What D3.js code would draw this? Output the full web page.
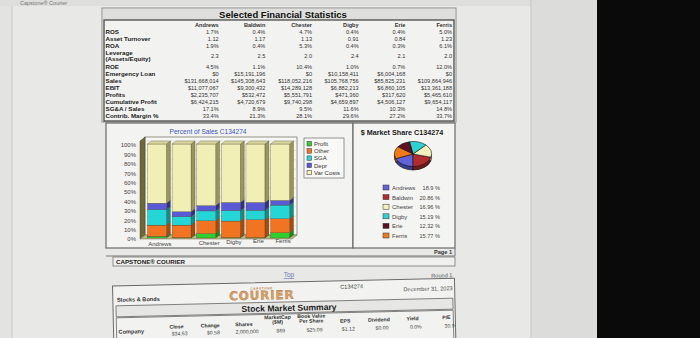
<!DOCTYPE html>
<html><head><meta charset="utf-8">
<script src="https://cdn.jsdelivr.net/npm/d3@7"></script>
<style>
html,body{margin:0;padding:0;background:#e8e8e6;overflow:hidden}
svg{display:block;font-family:"Liberation Sans",Arial,sans-serif}
</style>
</head><body>
<svg id="c" width="700" height="338"></svg>
<script>
// ---------------- DATA ----------------
const companies = ["Andrews","Baldwin","Chester","Digby","Erie","Ferris"];

const ros              = ["1.7%","0.4%","4.7%","0.4%","0.4%","5.0%"];
const assetTurnover    = ["1.12","1.17","1.13","0.91","0.84","1.23"];
const roa              = ["1.9%","0.4%","5.3%","0.4%","0.3%","6.1%"];
const leverage         = ["2.3","2.5","2.0","2.4","2.1","2.0"];
const roe              = ["4.5%","1.1%","10.4%","1.0%","0.7%","12.0%"];
const emergencyLoan    = ["$0","$15,191,196","$0","$10,158,411","$6,004,168","$0"];
const sales            = ["$131,668,014","$145,308,643","$118,052,216","$105,768,756","$85,825,231","$109,864,946"];
const ebit             = ["$11,077,067","$9,300,432","$14,289,128","$6,882,213","$6,860,105","$13,361,188"];
const profits          = ["$2,235,707","$532,472","$5,551,791","$471,360","$317,620","$5,465,610"];
const cumulativeProfit = ["$6,424,215","$4,720,679","$9,740,298","$4,659,897","$4,506,127","$9,654,117"];
const sgaSales         = ["17.1%","8.9%","9.5%","11.6%","10.3%","14.8%"];
const contribMargin    = ["33.4%","21.3%","28.1%","29.6%","27.2%","33.7%"];

// Percent of Sales (stacked bars), bottom to top
const profitPct  = [1.7, 0.4, 4.7, 0.4, 0.4, 5.5];
const otherPct   = [12.0, 13.3, 13.6, 17.6, 19.0, 15.0];
const sgaPct     = [16.5, 9.0, 10.5, 11.1, 10.1, 14.5];
const deprPct    = [6.8, 5.3, 5.7, 8.7, 8.3, 5.0];
const varCostPct = [63.0, 72.0, 65.5, 62.2, 62.2, 60.0];
const percentTicks = [0,10,20,30,40,50,60,70,80,90,100];
const segmentNames = ["Profit","Other","SGA","Depr","Var Costs"];

// $ Market Share
const marketShare = [18.9, 20.86, 16.96, 15.19, 12.32, 15.77];
const marketShareLabels = ["18.9 %","20.86 %","16.96 %","15.19 %","12.32 %","15.77 %"];

// Stock market summary (first row)
const stockHeaders = ["Close","Change","Shares","MarketCap|($M)","Book Value|Per Share","EPS","Dividend","Yield","P/E"];
const stockRow1    = ["$34.63","$0.58","2,000,000","$69","$25.09","$1.12","$0.00","0.0%","30.9"];

// ---------------- DRAW ----------------
const svg = d3.select("#c");
const F = "Liberation Sans, Arial, sans-serif";

// photo background
svg.append("rect").attr("width",700).attr("height",338).attr("fill","#e8e8e6");
svg.append("rect").attr("x",0).attr("y",0).attr("width",12).attr("height",338).attr("fill","#e3e3e1");
svg.append("line").attr("x1",12).attr("x2",12).attr("y1",6).attr("y2",338).attr("stroke","#c9c9c7");
svg.append("rect").attr("x",0).attr("y",0).attr("width",531).attr("height",6).attr("fill","#dededc");
svg.append("text").attr("x",20).attr("y",5).attr("font-size",5.5).attr("fill","#777").text("Capstone\u00AE  Courier");
svg.append("rect").attr("x",531).attr("y",0).attr("width",67).attr("height",338).attr("fill","#dcdcda");
svg.append("line").attr("x1",531).attr("x2",531).attr("y1",0).attr("y2",338).attr("stroke","#c3c3c1");
svg.append("rect").attr("x",597).attr("y",0).attr("width",103).attr("height",338).attr("fill","#0a0a0b");

// ---------- Selected Financial Statistics table ----------
const T = svg.append("g");
T.append("rect").attr("x",102).attr("y",8).attr("width",354).attr("height",114)
  .attr("fill","#f2f2f0").attr("stroke","#8c8c8c");
T.append("rect").attr("x",103).attr("y",9).attr("width",352).attr("height",11).attr("fill","#dededc");
T.append("text").attr("x",283).attr("y",18).attr("text-anchor","middle")
  .attr("font-size",9.5).attr("font-weight","bold").attr("fill","#111").text("Selected Financial Statistics");
T.append("rect").attr("x",104).attr("y",20).attr("width",350).attr("height",101)
  .attr("fill","none").attr("stroke","#4a4a4a").attr("stroke-width",1.3);

const colX = d3.scaleBand().domain(companies).range([172,452]);
T.selectAll("text.hdr").data(companies).join("text").attr("class","hdr")
  .attr("x",d=>colX(d)+colX.bandwidth()).attr("y",27).attr("text-anchor","end")
  .attr("font-size",5.6).attr("font-weight","bold").attr("fill","#333").text(d=>d);

const statRows = [
  {label:["ROS"], vals:ros, y:34},
  {label:["Asset Turnover"], vals:assetTurnover, y:41},
  {label:["ROA"], vals:roa, y:48},
  {label:["Leverage","(Assets/Equity)"], vals:leverage, y:58},
  {label:["ROE"], vals:roe, y:69},
  {label:["Emergency Loan"], vals:emergencyLoan, y:76},
  {label:["Sales"], vals:sales, y:82.5},
  {label:["EBIT"], vals:ebit, y:89.5},
  {label:["Profits"], vals:profits, y:96.5},
  {label:["Cumulative Profit"], vals:cumulativeProfit, y:103.5},
  {label:["SG&A / Sales"], vals:sgaSales, y:110.5},
  {label:["Contrib. Margin %"], vals:contribMargin, y:117.5}
];
statRows.forEach(r=>{
  r.label.forEach((l,k)=>{
    const yy = r.label.length===2 ? (k===0?55:61) : r.y;
    T.append("text").attr("x",105.5).attr("y",yy).attr("font-size",6.2).attr("font-weight","bold")
      .attr("fill","#222").text(l);
  });
  T.selectAll(null).data(r.vals).join("text")
    .attr("x",(d,i)=>colX(companies[i])+colX.bandwidth()).attr("y",r.y)
    .attr("text-anchor","end").attr("font-size",5.6).attr("fill","#333").text(d=>d);
});

// ---------- Percent of Sales panel ----------
const P = svg.append("g");
P.append("rect").attr("x",106).attr("y",123).attr("width",247).attr("height",125)
  .attr("fill","#f3f3f1").attr("stroke","#6a6a6a").attr("stroke-width",1.2);
P.append("text").attr("x",208).attr("y",134).attr("text-anchor","middle").attr("font-size",6.6)
  .attr("fill","#3a55c0").text("Percent of Sales  C134274");

const y = d3.scaleLinear().domain([0,100]).range([238,144]);
const x = d3.scaleBand().domain(companies).range([145,292]).paddingInner(0.23).paddingOuter(0.1);
const dx = 4, dy = -3;

// 3D walls
P.append("rect").attr("x",145).attr("y",137).attr("width",152).attr("height",98)
  .attr("fill","#f7f7f4").attr("stroke","#7c7c70").attr("stroke-width",0.8);
P.selectAll("line.grid").data(percentTicks).join("line").attr("class","grid")
  .attr("x1",145).attr("x2",297).attr("y1",d=>y(d)+dy).attr("y2",d=>y(d)+dy)
  .attr("stroke","#d2d2cc").attr("stroke-width",0.6);
P.append("polygon").attr("points","140,141 145,137 145,235 140,239").attr("fill","#6e6938").attr("stroke","#4a4624").attr("stroke-width",0.5);
P.append("polygon").attr("points","140,239 145,235 297,235 292,239").attr("fill","#b9b78e").attr("stroke","#6e6938").attr("stroke-width",0.5);

// y axis
const yAxis = d3.axisLeft(y).tickValues(percentTicks).tickSize(0).tickPadding(0).tickFormat(d=>d+"%");
const ya = P.append("g").attr("transform","translate(136,1)").call(yAxis);
ya.select(".domain").remove();
ya.selectAll("text").attr("font-size",6).attr("font-family",F).attr("fill","#444");

// stacked bars
const keys = ["profit","other","sga","depr","varCost"];
const rows = companies.map((c,i)=>({company:c, profit:profitPct[i], other:otherPct[i], sga:sgaPct[i], depr:deprPct[i], varCost:varCostPct[i]}));
const stacked = d3.stack().keys(keys)(rows);
const front = {profit:"#2fcf2f", other:"#f27322", sga:"#25d6d6", depr:"#5a5ad6", varCost:"#f2efb6"};
const side  = {profit:"#178a17", other:"#a64a0e", sga:"#128c8c", depr:"#30308a", varCost:"#9a955a"};
stacked.forEach(layer=>{
  const k = layer.key;
  const g = P.append("g");
  g.selectAll("polygon").data(layer).join("polygon")
    .attr("points",d=>{
      const x0 = x(d.data.company)+x.bandwidth(), y1 = y(d[1]), y0 = y(d[0]);
      return [[x0,y1],[x0+dx,y1+dy],[x0+dx,y0+dy],[x0,y0]].join(" ");
    }).attr("fill",side[k]).attr("stroke","#3d3a20").attr("stroke-width",0.3);
  g.selectAll("rect").data(layer).join("rect")
    .attr("x",d=>x(d.data.company)).attr("y",d=>y(d[1]))
    .attr("width",x.bandwidth()).attr("height",d=>y(d[0])-y(d[1]))
    .attr("fill",front[k]).attr("stroke","#3d3a20").attr("stroke-width",0.3);
  if (k==="varCost") {
    g.selectAll("polygon.top").data(layer).join("polygon").attr("class","top")
      .attr("points",d=>{
        const x0 = x(d.data.company), x1 = x0+x.bandwidth(), yt = y(d[1]);
        return [[x0,yt],[x0+dx,yt+dy],[x1+dx,yt+dy],[x1,yt]].join(" ");
      }).attr("fill","#d9d6a0").attr("stroke","#3d3a20").attr("stroke-width",0.3);
  }
});

// x labels (Baldwin label hidden as in the original)
P.selectAll("text.xl").data(companies.filter(c=>c!=="Baldwin")).join("text").attr("class","xl")
  .attr("x",d=>x(d)+x.bandwidth()/2+3).attr("y",(d)=>246 - companies.indexOf(d)*0.7)
  .attr("text-anchor","middle").attr("font-size",6).attr("fill","#444").text(d=>d);

// legend
const L = P.append("g");
L.append("rect").attr("x",304).attr("y",138).attr("width",40).attr("height",40)
  .attr("fill","#f8f8f6").attr("stroke","#7a7a7a").attr("stroke-width",0.8);
const legendColors = [front.profit, front.other, front.sga, front.depr, front.varCost];
L.selectAll("rect.sw").data(segmentNames).join("rect").attr("class","sw")
  .attr("x",307).attr("y",(d,i)=>141.5+i*7.2).attr("width",4.5).attr("height",4.5)
  .attr("fill",(d,i)=>legendColors[i]).attr("stroke","#333").attr("stroke-width",0.5);
L.selectAll("text").data(segmentNames).join("text")
  .attr("x",314).attr("y",(d,i)=>146+i*7.2).attr("font-size",6).attr("fill","#333").text(d=>d);

// ---------- Market share panel ----------
const M = svg.append("g");
M.append("rect").attr("x",353).attr("y",123).attr("width",102).attr("height",125)
  .attr("fill","#f4f4f2").attr("stroke","#6a6a6a").attr("stroke-width",1.2);
M.append("text").attr("x",402).attr("y",135).attr("text-anchor","middle").attr("font-size",7.2)
  .attr("font-weight","bold").attr("fill","#1a1a1a").text("$ Market Share  C134274");

const pieColors = ["#6262da","#b02c30","#f5f1bc","#2fd2d2","#5e1020","#f07a1a"];
const pieDark   = ["#3a3a90","#701a1c","#a8a47a","#1c8a8a","#380810","#a04e0c"];
const pie = d3.pie().sort(null).startAngle(248*Math.PI/180).endAngle(-112*Math.PI/180);
const arcs = pie(marketShare);
const arc = d3.arc().innerRadius(0).outerRadius(18.5);
const cx = 413, cy = 154, sy = 12.5/18.5;
const pb = M.append("g").attr("transform",`translate(${cx},${cy+3.5}) scale(1,${sy})`);
pb.selectAll("path").data(arcs).join("path").attr("d",arc).attr("fill",(d,i)=>pieDark[i])
  .attr("stroke","#111").attr("stroke-width",0.8);
const pt = M.append("g").attr("transform",`translate(${cx},${cy}) scale(1,${sy})`);
pt.selectAll("path").data(arcs).join("path").attr("d",arc).attr("fill",(d,i)=>pieColors[i])
  .attr("stroke","#111").attr("stroke-width",0.7);

const ml = M.append("g");
ml.selectAll("rect").data(companies).join("rect")
  .attr("x",383).attr("y",(d,i)=>185+i*9.6).attr("width",6).attr("height",5)
  .attr("fill",(d,i)=>pieColors[i]).attr("stroke","#333").attr("stroke-width",0.5);
ml.selectAll("text.n").data(companies).join("text").attr("class","n")
  .attr("x",392).attr("y",(d,i)=>190+i*9.6).attr("font-size",6).attr("fill","#444").text(d=>d);
ml.selectAll("text.v").data(marketShareLabels).join("text").attr("class","v")
  .attr("x",440).attr("y",(d,i)=>190+i*9.6).attr("text-anchor","end").attr("font-size",5.6)
  .attr("fill","#444").text(d=>d);

// page footer
svg.append("line").attr("x1",106).attr("x2",455).attr("y1",256).attr("y2",256).attr("stroke","#777");
svg.append("line").attr("x1",455).attr("x2",455).attr("y1",248).attr("y2",256).attr("stroke","#777");
svg.append("text").attr("x",452).attr("y",254).attr("text-anchor","end").attr("font-size",5.6)
  .attr("font-weight","bold").attr("fill","#333").text("Page 1");
svg.append("rect").attr("x",113).attr("y",257).attr("width",342).attr("height",9)
  .attr("fill","#f0f0ee").attr("stroke","#777").attr("stroke-width",0.8);
svg.append("text").attr("x",116).attr("y",264).attr("font-size",6.2).attr("font-weight","bold")
  .attr("fill","#222").text("CAPSTONE\u00AE COURIER");

// ---------- Stocks & Bonds section ----------
svg.append("text").attr("x",289).attr("y",277).attr("text-anchor","middle").attr("font-size",6.5)
  .attr("fill","#6a7bb0").attr("text-decoration","underline").text("Top");
const S = svg.append("g").attr("transform","rotate(-1.3,285,305)");
S.append("rect").attr("x",113).attr("y",282).attr("width",342).attr("height",70)
  .attr("fill","#f2f2f0").attr("stroke","#6a6a6a").attr("stroke-width",1);
S.append("text").attr("x",453).attr("y",281).attr("text-anchor","end").attr("font-size",5.6).attr("fill","#555").text("Round 1");
S.append("text").attr("x",117).attr("y",298).attr("font-size",5.6).attr("font-weight","bold").attr("fill","#333").text("Stocks & Bonds");
S.append("text").attr("x",262).attr("y",289).attr("text-anchor","middle").attr("font-size",3.2)
  .attr("font-weight","bold").attr("fill","#b87a40").attr("letter-spacing",0.6).text("CAPSTONE");
S.append("text").attr("x",262).attr("y",299).attr("text-anchor","middle").attr("font-size",12)
  .attr("font-weight","bold").attr("font-family","DejaVu Sans, sans-serif").attr("letter-spacing",0.8)
  .attr("fill","#d9a066").attr("stroke","#9a6a3a").attr("stroke-width",0.3).text("COURIER");
S.append("text").attr("x",352).attr("y",290).attr("text-anchor","middle").attr("font-size",5.6).attr("fill","#444").text("C134274");
S.append("text").attr("x",453).attr("y",294).attr("text-anchor","end").attr("font-size",5.6).attr("fill","#555").text("December 31, 2023");
S.append("rect").attr("x",116).attr("y",302).attr("width",337).attr("height",11)
  .attr("fill","#e6e6e4").attr("stroke","#666").attr("stroke-width",0.8);
S.append("text").attr("x",289).attr("y",311).attr("text-anchor","middle").attr("font-size",8.6)
  .attr("font-weight","bold").attr("fill","#1a1a1a").text("Stock Market Summary");
S.append("rect").attr("x",116).attr("y",314).attr("width",337).attr("height",40)
  .attr("fill","none").attr("stroke","#666").attr("stroke-width",0.8);

const sx = d3.scalePoint().domain(stockHeaders).range([176,446]);
S.append("text").attr("x",118).attr("y",330).attr("font-size",5.6).attr("font-weight","bold").attr("fill","#333").text("Company");
stockHeaders.forEach((h,i)=>{
  const parts = h.split("|");
  const yb = 326 - i*0.4;
  parts.forEach((p,k)=>{
    S.append("text").attr("x",sx(h)).attr("y",parts.length===2 ? yb-6+k*4.8 : yb)
      .attr("text-anchor","middle").attr("font-size",5.2).attr("font-weight","bold").attr("fill","#333").text(p);
  });
  S.append("text").attr("x",sx(h)+3).attr("y",333 - i*0.2).attr("text-anchor","middle")
    .attr("font-size",5.2).attr("fill","#444").text(stockRow1[i]);
});
</script>
</body></html>
